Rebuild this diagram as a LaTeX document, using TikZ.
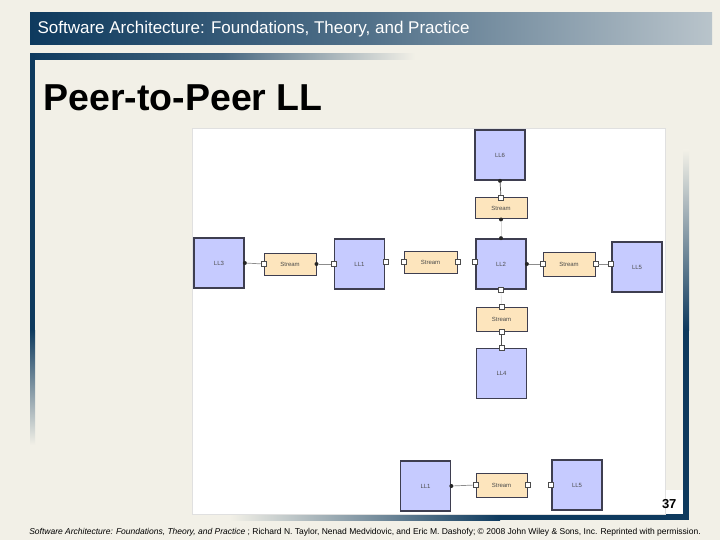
\documentclass[tikz,border=0pt]{standalone}
\usepackage{fontspec}
\setmainfont{Liberation Sans}
\usepackage{tikz}
\usetikzlibrary{arrows.meta}

\definecolor{slidebg}{HTML}{F2F0E7}
\definecolor{barblue}{HTML}{0E3A5E}
\definecolor{barfade}{HTML}{B9C4CB}
\definecolor{compblue}{HTML}{C6CBFF}
\definecolor{connpeach}{HTML}{FDE5BD}
\definecolor{edgegray}{HTML}{3E3E50}

\tikzset{
    comp/.style={
        rectangle,
        draw=edgegray,
        fill=compblue,
        line width=1.7pt,
        minimum width=50pt,
        minimum height=50pt,
        inner sep=0pt,
        text=black!70,
        font=\fontsize{6}{7}\selectfont
    },
    conn/.style={
        rectangle,
        draw=edgegray,
        fill=connpeach,
        line width=1pt,
        minimum width=52pt,
        minimum height=22pt,
        inner sep=0pt,
        text=black!70,
        font=\fontsize{6}{7}\selectfont
    },
    iface/.style={
        rectangle,
        draw=black!70,
        fill=white,
        line width=0.5pt,
        minimum size=5pt,
        inner sep=0pt
    },
    dotface/.style={
        circle,
        fill=black!85,
        minimum size=4pt,
        inner sep=0pt
    },
    link/.style={
        draw=black!45,
        line width=0.7pt
    },
    faint/.style={
        draw=black!15,
        line width=0.6pt
    }
}

\begin{document}
\begin{tikzpicture}[x=1pt,y=-1pt]

    % Slide background and frame
    \fill[slidebg] (0,0) rectangle (720,540);
    \useasboundingbox (0,0) rectangle (720,540);
    \shade[left color=barblue, right color=barfade, middle color=barblue!60!barfade] (30,13) rectangle (712,45);
    \shade[left color=barblue, right color=slidebg, middle color=barblue!75!slidebg] (30,54) rectangle (415,60);
    \fill[barblue] (30,54) rectangle (35,330);
    \shade[top color=barblue, bottom color=slidebg] (30,330) rectangle (35,445);
    \shade[top color=slidebg, bottom color=barblue] (683,150) rectangle (689,330);
    \fill[barblue] (683,330) rectangle (689,520);
    \shade[left color=slidebg, right color=barblue] (230,514) rectangle (500,520);
    \fill[barblue] (500,514) rectangle (689,520);
    \fill[white] (665,490) rectangle (683,514);

    % Headings
    \node (head) [anchor=west, text=white, font=\fontsize{17}{20}\selectfont] at (34,29)
        {Software Architecture: Foundations, Theory, and Practice};
    \node (title) [anchor=west, font=\fontsize{37.5}{42}\selectfont\bfseries] at (40,98)
        {Peer-to-Peer LL};

    % Diagram canvas
    \fill[white, draw=black!12] (192,128) rectangle (665,514);

    % Components
    \node (ll6) [comp] at (500,155) {LL6};
    \node (ll3) [comp] at (219,263) {LL3};
    \node (ll1) [comp] at (359.5,264) {LL1};
    \node (ll2) [comp] at (501,264) {LL2};
    \node (ll5) [comp] at (637,267) {LL5};
    \node (ll4) [comp] at (501.5,373.5) {LL4};
    \node (ll1b) [comp] at (425.5,486) {LL1};
    \node (ll5b) [comp] at (577,485) {LL5};

    % Streams
    \node (sa) [conn, minimum height=21pt] at (501,208.5) {Stream};
    \node (sb) [conn] at (290,264) {Stream};
    \node (sc) [conn, minimum width=53pt] at (430.5,262) {Stream};
    \node (sd) [conn, minimum height=24pt] at (569,264) {Stream};
    \node (se) [conn, minimum width=51pt, minimum height=24pt] at (501.5,319) {Stream};
    \node (sf) [conn, minimum width=51pt, minimum height=24pt] at (501.5,485) {Stream};

    % Interfaces
    \node (ll6s) [dotface] at (ll6.south) {};
    \node (san) [iface] at (sa.north) {};
    \node (sas) [dotface] at (sa.south) {};
    \node (ll2n) [dotface] at (ll2.north) {};
    \node (ll3e) [dotface] at (ll3.east) {};
    \node (sbw) [iface] at (sb.west) {};
    \node (sbe) [dotface] at (sb.east) {};
    \node (ll1w) [iface] at (ll1.west) {};
    \node (ll1e) [iface] at (ll1.east |- sc) {};
    \node (scw) [iface] at (sc.west) {};
    \node (sce) [iface] at (sc.east) {};
    \node (ll2w) [iface] at (ll2.west |- sc) {};
    \node (ll2e) [dotface] at (ll2.east) {};
    \node (sdw) [iface] at (sd.west |- ll2e) {};
    \node (sde) [iface] at (sd.east |- ll2e) {};
    \node (ll5w) [iface] at (ll5.west |- ll2e) {};
    \node (ll2s) [iface] at (ll2.south) {};
    \node (sen) [iface] at (se.north) {};
    \node (ses) [iface] at (se.south) {};
    \node (ll4n) [iface] at (ll4.north) {};
    \node (ll1be) [dotface] at (ll1b.east) {};
    \node (sfw) [iface] at (sf.west) {};
    \node (sfe) [iface] at (sf.east) {};
    \node (ll5bw) [iface] at (ll5b.west) {};

    % Links
    \draw [link, draw=black!70] (ll6s) -- (san);
    \draw [faint] (sas) -- (ll2n);
    \draw [link] (ll3e) -- (sbw);
    \draw [link] (sbe) -- (ll1w);
    \draw [link] (ll2e) -- (sdw);
    \draw [link] (sde) -- (ll5w);
    \draw [faint] (ll2s) -- (sen);
    \draw [link, draw=black!70] (ses) -- (ll4n);
    \draw [link] (ll1be) -- (sfw);

    % Page number and credit line
    \node (pnum) [anchor=east, font=\fontsize{13}{14}\selectfont\bfseries] at (680,504) {37};
    \node (credit) [font=\fontsize{8.5}{10}\selectfont] at (365,532)
        {\textit{Software Architecture: Foundations, Theory, and Practice} ; Richard N. Taylor, Nenad Medvidovic, and Eric M. Dashofy; © 2008 John Wiley \& Sons, Inc. Reprinted with permission.};

\end{tikzpicture}
\end{document}
